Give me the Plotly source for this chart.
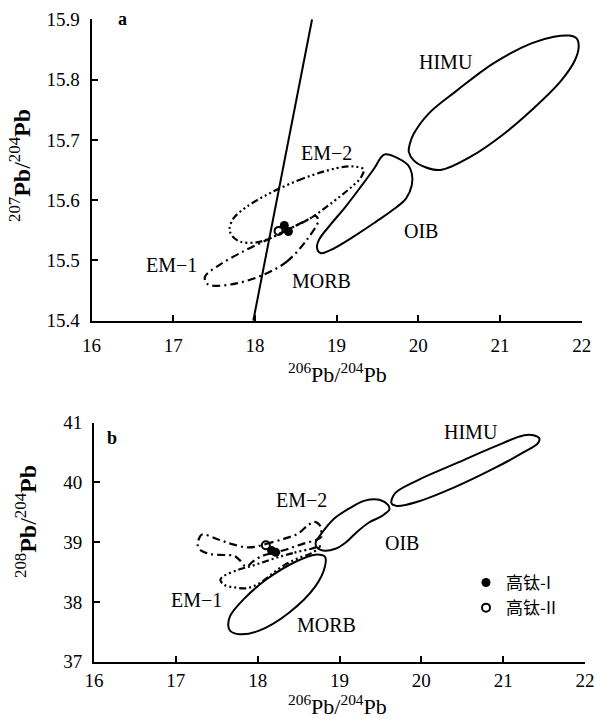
import plotly.graph_objects as go

# ---------------- data (panel a: 207Pb/204Pb vs 206Pb/204Pb) ----------------
a_line_x = [17.98, 18.70]
a_line_y = [15.40, 15.90]

a_himu_x = [20.455, 20.919, 21.383, 21.66, 21.847, 21.94, 21.963, 21.917, 21.754, 21.52, 21.058, 20.64, 20.27, 20.08, 19.944, 19.884, 19.898, 19.944, 20.13, 20.455]
a_himu_y = [15.780, 15.827, 15.860, 15.871, 15.873, 15.868, 15.854, 15.832, 15.799, 15.766, 15.711, 15.672, 15.650, 15.655, 15.666, 15.680, 15.694, 15.710, 15.744, 15.780]

a_oib_x = [19.48, 19.202, 18.923, 18.807, 18.761, 18.784, 18.923, 19.109, 19.295, 19.457, 19.55, 19.596, 19.759, 19.875, 19.921, 19.921, 19.851, 19.712, 19.48]
a_oib_y = [15.564, 15.539, 15.517, 15.512, 15.520, 15.534, 15.559, 15.589, 15.622, 15.652, 15.672, 15.676, 15.669, 15.658, 15.644, 15.625, 15.603, 15.586, 15.564]

a_em2_x = [18.19, 18.59, 19.00, 19.20, 19.33, 19.30, 19.20, 19.04, 18.68, 18.43, 18.19, 18.02, 17.82, 17.72, 17.69, 17.74, 17.90, 18.19]
a_em2_y = [15.612, 15.636, 15.653, 15.656, 15.651, 15.638, 15.624, 15.606, 15.570, 15.553, 15.537, 15.530, 15.531, 15.541, 15.552, 15.570, 15.589, 15.612]

a_em1_x = [18.10, 18.39, 18.634, 18.776, 18.74, 18.68, 18.43, 18.19, 18.10, 17.858, 17.573, 17.389, 17.41, 17.49, 17.777, 18.10]
a_em1_y = [15.476, 15.498, 15.534, 15.567, 15.574, 15.570, 15.553, 15.537, 15.531, 15.515, 15.493, 15.473, 15.462, 15.458, 15.462, 15.476]

a_hti1_x = [18.36, 18.41]
a_hti1_y = [15.558, 15.548]
a_hti2_x = [18.29]
a_hti2_y = [15.549]

# ---------------- data (panel b: 208Pb/204Pb vs 206Pb/204Pb) ----------------
b_himu_x = [20.423, 20.887, 21.257, 21.37, 21.443, 21.42, 21.257, 20.887, 20.423, 19.96, 19.70, 19.635, 19.68, 19.96, 20.423]
b_himu_y = [40.318, 40.595, 40.79, 40.79, 40.734, 40.65, 40.51, 40.234, 39.93, 39.68, 39.607, 39.652, 39.82, 40.04, 40.318]

b_oib_x = [19.36, 19.22, 19.08, 18.95, 18.80, 18.72, 18.71, 18.75, 18.82, 18.94, 19.125, 19.31, 19.496, 19.59, 19.61, 19.52, 19.36]
b_oib_y = [39.33, 39.18, 39.00, 38.89, 38.86, 38.92, 39.00, 39.09, 39.22, 39.40, 39.569, 39.696, 39.707, 39.63, 39.55, 39.44, 39.33]

b_morb_x = [18.383, 18.707, 18.823, 18.823, 18.707, 18.476, 18.105, 17.827, 17.664, 17.641, 17.664, 17.78, 18.01, 18.383]
b_morb_y = [37.82, 38.265, 38.598, 38.753, 38.792, 38.681, 38.376, 38.043, 37.766, 37.60, 37.516, 37.46, 37.516, 37.82]

b_em2_x = [17.98, 18.10, 18.33, 18.50, 18.62, 18.70, 18.76, 18.78, 18.78, 18.72, 18.57, 18.45, 18.33, 18.165, 18.04, 17.94, 17.86, 17.78, 17.716, 17.59, 17.43, 17.31, 17.266, 17.29, 17.32, 17.51, 17.68, 17.86, 17.98]
b_em2_y = [38.925, 38.97, 39.06, 39.15, 39.29, 39.34, 39.28, 39.15, 39.09, 39.04, 38.98, 38.925, 38.87, 38.815, 38.76, 38.675, 38.59, 38.70, 38.77, 38.786, 38.80, 38.86, 38.96, 39.08, 39.13, 39.05, 38.97, 38.915, 38.925]

b_em1_x = [18.246, 18.45, 18.656, 18.78, 18.656, 18.49, 18.33, 18.185, 18.083, 17.98, 17.86, 17.716, 17.593, 17.544, 17.57, 17.756, 17.92, 18.083, 18.246]
b_em1_y = [38.747, 38.825, 38.891, 38.936, 38.815, 38.73, 38.62, 38.48, 38.367, 38.284, 38.228, 38.245, 38.284, 38.367, 38.42, 38.535, 38.60, 38.674, 38.747]

b_hti1_x = [18.17, 18.22]
b_hti1_y = [38.86, 38.83]
b_hti2_x = [18.10]
b_hti2_y = [38.95]

x_ticks = [16, 17, 18, 19, 20, 21, 22]
a_y_ticks = [15.4, 15.5, 15.6, 15.7, 15.8, 15.9]
b_y_ticks = [37, 38, 39, 40, 41]

# labels: (text, x, y)
a_labels = [("HIMU", 20.34, 15.829), ("EM\u22122", 18.88, 15.679), ("OIB", 20.03, 15.549),
            ("EM\u22121", 16.985, 15.493), ("MORB", 18.81, 15.466)]
b_labels = [("HIMU", 20.605, 40.85), ("EM\u22122", 18.54, 39.71), ("OIB", 19.76, 38.985),
            ("EM\u22121", 17.25, 38.03), ("MORB", 18.84, 37.61)]

SERIF = "Liberation Serif"
CJK = "Noto Sans CJK SC"
DASHDOT = "8px,4px,2px,4px"
DASHDOTDOT = "2px,3px,2px,3px,2px,3px,7px,3px"

fig = go.Figure()

def curve(x, y, xa, ya, dash="solid", width=2.0):
    fig.add_trace(go.Scatter(x=x, y=y, xaxis=xa, yaxis=ya, mode="lines",
                             line=dict(color="black", width=width, dash=dash,
                                       shape="spline", smoothing=1.0),
                             showlegend=False, hoverinfo="skip"))

# panel a
fig.add_trace(go.Scatter(x=a_line_x, y=a_line_y, xaxis="x", yaxis="y", mode="lines",
                         line=dict(color="black", width=2), showlegend=False, hoverinfo="skip"))
curve(a_himu_x, a_himu_y, "x", "y")
curve(a_oib_x, a_oib_y, "x", "y")
curve(a_em2_x, a_em2_y, "x", "y", DASHDOTDOT, 2.2)
curve(a_em1_x, a_em1_y, "x", "y", DASHDOT, 2.2)

# panel b
curve(b_himu_x, b_himu_y, "x2", "y2")
curve(b_oib_x, b_oib_y, "x2", "y2")
curve(b_morb_x, b_morb_y, "x2", "y2")
curve(b_em2_x, b_em2_y, "x2", "y2", DASHDOT, 2.2)
curve(b_em1_x, b_em1_y, "x2", "y2", DASHDOTDOT, 2.2)

# samples
fig.add_trace(go.Scatter(x=a_hti1_x, y=a_hti1_y, xaxis="x", yaxis="y", mode="markers",
                         marker=dict(symbol="circle", size=9, color="black"),
                         name="高钛-I", legendgroup="g1", showlegend=True))
fig.add_trace(go.Scatter(x=a_hti2_x, y=a_hti2_y, xaxis="x", yaxis="y", mode="markers",
                         marker=dict(symbol="circle-open", size=8, color="black", line=dict(width=2)),
                         name="高钛-II", legendgroup="g2", showlegend=True))
fig.add_trace(go.Scatter(x=b_hti1_x, y=b_hti1_y, xaxis="x2", yaxis="y2", mode="markers",
                         marker=dict(symbol="circle", size=9, color="black"),
                         name="高钛-I", legendgroup="g1", showlegend=False))
fig.add_trace(go.Scatter(x=b_hti2_x, y=b_hti2_y, xaxis="x2", yaxis="y2", mode="markers",
                         marker=dict(symbol="circle-open", size=8, color="black", line=dict(width=2)),
                         name="高钛-II", legendgroup="g2", showlegend=False))

annotations = []
for t, x, y in a_labels:
    annotations.append(dict(text=t, x=x, y=y, xref="x", yref="y", showarrow=False,
                            font=dict(family=SERIF, size=20, color="black")))
for t, x, y in b_labels:
    annotations.append(dict(text=t, x=x, y=y, xref="x2", yref="y2", showarrow=False,
                            font=dict(family=SERIF, size=20, color="black")))
annotations.append(dict(text="<b>a</b>", x=16.385, y=15.9, xref="x", yref="y", showarrow=False,
                        font=dict(family=SERIF, size=18, color="black")))
annotations.append(dict(text="<b>b</b>", x=16.22, y=40.75, xref="x2", yref="y2", showarrow=False,
                        font=dict(family=SERIF, size=18, color="black")))

# axis titles
annotations.append(dict(text="<sup>206</sup>Pb/<sup>204</sup>Pb", x=337/595, y=1-373/719,
                        xref="paper", yref="paper", showarrow=False,
                        xanchor="center", yanchor="middle",
                        font=dict(family=SERIF, size=22, color="black")))
annotations.append(dict(text="<sup>206</sup>Pb/<sup>204</sup>Pb", x=337/595, y=1-705/719,
                        xref="paper", yref="paper", showarrow=False,
                        xanchor="center", yanchor="middle",
                        font=dict(family=SERIF, size=22, color="black")))
annotations.append(dict(text="<sup>207</sup><b>Pb</b>/<sup>204</sup><b>Pb</b>", x=20/595, y=1-166/719,
                        xref="paper", yref="paper", showarrow=False, textangle=-90,
                        xanchor="center", yanchor="middle",
                        font=dict(family=SERIF, size=24, color="black")))
annotations.append(dict(text="<sup>208</sup><b>Pb</b>/<sup>204</sup><b>Pb</b>", x=26/595, y=1-522/719,
                        xref="paper", yref="paper", showarrow=False, textangle=-90,
                        xanchor="center", yanchor="middle",
                        font=dict(family=SERIF, size=24, color="black")))

axis_common = dict(showline=True, linecolor="black", linewidth=2, ticks="inside",
                   ticklen=6, tickwidth=1.5, tickcolor="black", showgrid=False,
                   zeroline=False, mirror=False, automargin=False,
                   tickfont=dict(family=SERIF, size=19, color="black"))

fig.update_layout(
    width=595, height=719,
    margin=dict(l=0, r=0, t=0, b=0),
    paper_bgcolor="white", plot_bgcolor="white",
    xaxis=dict(domain=[91.5/595, 581.7/595], range=[16, 22], tickvals=x_ticks,
               anchor="y", ticklabelstandoff=6, **axis_common),
    yaxis=dict(domain=[1-320.7/719, 1-19.3/719], range=[15.4, 15.9], tickvals=a_y_ticks,
               tickformat=".1f", anchor="x", ticklabelstandoff=6, **axis_common),
    xaxis2=dict(domain=[94/595, 585/595], range=[16, 22], tickvals=x_ticks,
                anchor="y2", ticklabelstandoff=0, **axis_common),
    yaxis2=dict(domain=[1-661.7/719, 1-422.7/719], range=[37, 41], tickvals=b_y_ticks,
                anchor="x2", ticklabelstandoff=6, **axis_common),
    legend=dict(x=466/595, y=1-565/719, xanchor="left", yanchor="top",
                font=dict(family=CJK, size=17, color="black"),
                bgcolor="rgba(0,0,0,0)", tracegroupgap=0, itemwidth=30),
    annotations=annotations,
    showlegend=True,
)

fig.write_html("out.html", config={"displayModeBar": False},
               post_script="document.body.style.margin='0';document.body.style.overflow='hidden';")
